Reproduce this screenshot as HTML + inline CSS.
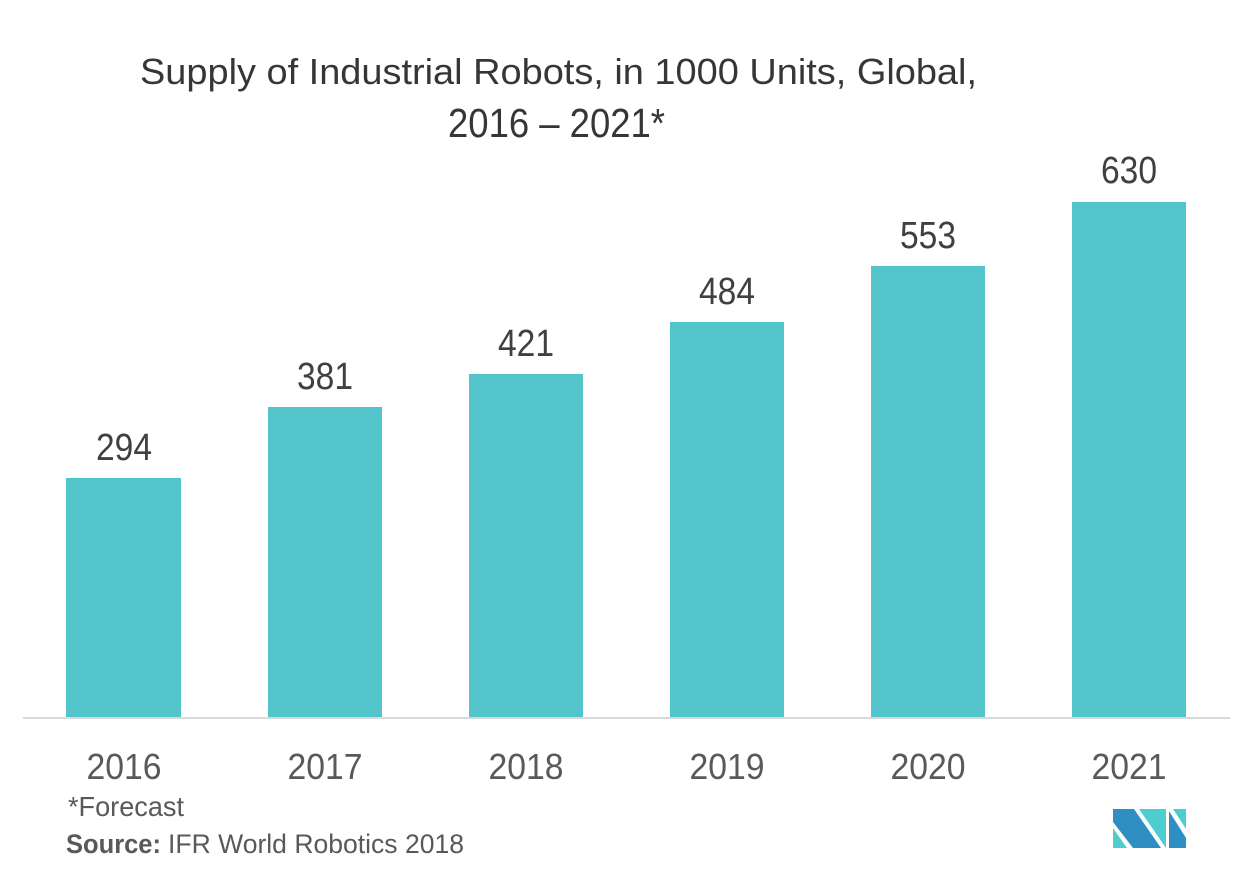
<!DOCTYPE html>
<html>
<head>
<meta charset="utf-8">
<style>
  html, body { margin: 0; padding: 0; background: #ffffff; }
  body { width: 1253px; height: 880px; overflow: hidden; }
  svg { display: block; }
  text { font-family: "Liberation Sans", "DejaVu Sans", sans-serif; }
</style>
</head>
<body>
<svg width="1253" height="880" viewBox="0 0 1253 880" xmlns="http://www.w3.org/2000/svg">
  <rect x="0" y="0" width="1253" height="880" fill="#ffffff"/>

  <!-- Title -->
  <text x="140" y="84" font-size="36" fill="#363636" textLength="837" lengthAdjust="spacingAndGlyphs">Supply of Industrial Robots, in 1000 Units, Global,</text>
  <text x="448" y="137" font-size="41" fill="#363636" textLength="217" lengthAdjust="spacingAndGlyphs">2016 – 2021*</text>

  <!-- Bars -->
  <g fill="#52c4ca">
    <rect x="66" y="478" width="115" height="240"/>
    <rect x="268" y="407" width="114" height="311"/>
    <rect x="469" y="374" width="114" height="344"/>
    <rect x="670" y="322" width="114" height="396"/>
    <rect x="871" y="266" width="114" height="452"/>
    <rect x="1072" y="202" width="114" height="516"/>
  </g>

  <!-- Axis line -->
  <rect x="23" y="717" width="1207" height="2" fill="#d9d9d9"/>

  <!-- Value labels -->
  <g font-size="38" fill="#404040" text-anchor="middle">
    <text x="124" y="460" textLength="56" lengthAdjust="spacingAndGlyphs">294</text>
    <text x="325" y="389" textLength="56" lengthAdjust="spacingAndGlyphs">381</text>
    <text x="526" y="356" textLength="56" lengthAdjust="spacingAndGlyphs">421</text>
    <text x="727" y="304" textLength="56" lengthAdjust="spacingAndGlyphs">484</text>
    <text x="928" y="248" textLength="56" lengthAdjust="spacingAndGlyphs">553</text>
    <text x="1129" y="183" textLength="56" lengthAdjust="spacingAndGlyphs">630</text>
  </g>

  <!-- Year labels -->
  <g font-size="36" fill="#595959" text-anchor="middle">
    <text x="124" y="779" textLength="75" lengthAdjust="spacingAndGlyphs">2016</text>
    <text x="325" y="779" textLength="75" lengthAdjust="spacingAndGlyphs">2017</text>
    <text x="526" y="779" textLength="75" lengthAdjust="spacingAndGlyphs">2018</text>
    <text x="727" y="779" textLength="75" lengthAdjust="spacingAndGlyphs">2019</text>
    <text x="928" y="779" textLength="75" lengthAdjust="spacingAndGlyphs">2020</text>
    <text x="1129" y="779" textLength="75" lengthAdjust="spacingAndGlyphs">2021</text>
  </g>

  <!-- Footnotes -->
  <text x="68" y="816" font-size="28" fill="#595959" textLength="116" lengthAdjust="spacingAndGlyphs">*Forecast</text>
  <text x="66" y="853" font-size="27" font-weight="bold" fill="#595959" textLength="95" lengthAdjust="spacingAndGlyphs">Source:</text>
  <text x="168" y="853" font-size="27" fill="#595959" textLength="296" lengthAdjust="spacingAndGlyphs">IFR World Robotics 2018</text>

  <!-- Logo -->
  <g>
    <polygon points="1113,828 1113,848 1127,848" fill="#4ecdd1"/>
    <polygon points="1113,809 1134,809 1161,848 1133,848 1113,822" fill="#2f8fc3"/>
    <polygon points="1139,809 1166,809 1166,848" fill="#4ecdd1"/>
    <polygon points="1169,811 1186,838 1186,848 1169,848" fill="#2f8fc3"/>
    <polygon points="1173,809 1186,809 1186,829" fill="#4ecdd1"/>
  </g>
</svg>
</body>
</html>
